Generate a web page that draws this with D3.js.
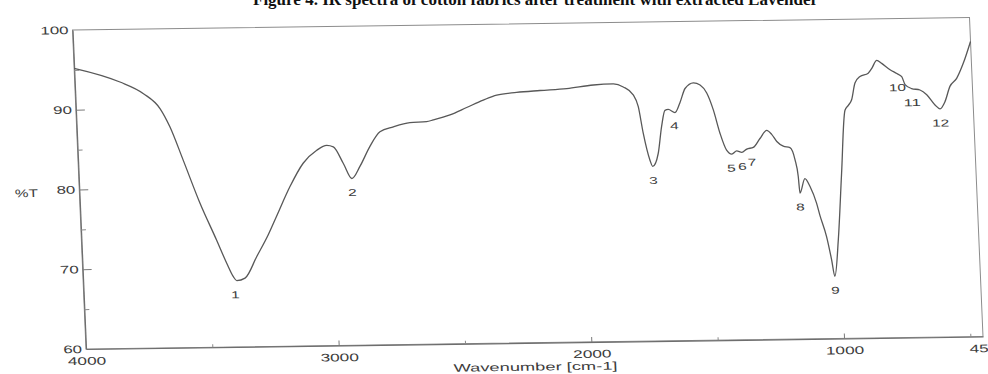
<!DOCTYPE html>
<html>
<head>
<meta charset="utf-8">
<script src="https://cdn.jsdelivr.net/npm/d3@7"></script>
<style>
  html, body { margin: 0; padding: 0; background: #fff; }
  svg { display: block; }
</style>
</head>
<body>
<svg id="chart" width="988" height="374"></svg>
<script>
// FTIR spectrum: wavenumber (cm-1) against transmittance (%T)
const wavenumbers = [
  4000, 3821, 3730, 3667, 3631, 3584, 3525, 3465, 3429, 3405, 3392, 3359, 3309, 3260,
  3224, 3166, 3110, 3054, 3014, 2988, 2951, 2920, 2886, 2843, 2801, 2747, 2681, 2615,
  2588, 2521, 2454, 2387, 2333, 2254, 2161, 2055, 1949, 1870, 1831, 1793, 1775, 1760,
  1738, 1728, 1704, 1686, 1670, 1657, 1631, 1610, 1587, 1553, 1527, 1502, 1479, 1456,
  1433, 1413, 1393, 1373, 1353, 1327, 1299, 1271, 1252, 1233, 1208, 1182, 1164, 1154,
  1150, 1128, 1109, 1086, 1075, 1052, 1036, 1026, 1006, 982, 958, 944, 930, 914,
  893, 860, 845, 824, 805, 773, 747, 728, 716, 691, 658, 632, 601, 582,
  561, 539, 511, 482, 450
];
const transmittance = [
  95.2, 93.4, 91.9, 90.0, 87.7, 83.5, 78.1, 73.4, 70.5, 68.8, 68.3, 68.6, 71.3, 74.0,
  76.3, 80.0, 82.9, 84.5, 85.1, 84.9, 82.8, 80.9, 82.4, 84.9, 86.7, 87.3, 87.8, 87.9,
  88.1, 88.7, 89.6, 90.5, 91.1, 91.4, 91.6, 91.8, 92.2, 92.3, 91.9, 90.9, 89.4, 86.1,
  82.7, 81.9, 83.5, 86.9, 88.9, 89.0, 88.6, 89.8, 91.6, 92.3, 92.0, 91.0, 88.9, 85.9,
  83.8, 83.3, 83.7, 83.5, 83.9, 84.1, 85.2, 86.2, 85.7, 84.8, 84.2, 84.0, 82.5, 80.4,
  78.3, 80.1, 79.1, 77.0, 75.5, 72.8, 69.9, 67.8, 72.4, 80.7, 88.6, 89.2, 89.9, 92.0,
  92.8, 93.2, 93.8, 94.8, 94.4, 93.6, 93.1, 92.7, 91.7, 91.2, 91.0, 90.4, 89.1, 88.6,
  89.5, 91.4, 92.4, 94.3, 97.0
];

// numbered absorption bands
const peakLabels = ["1", "2", "3", "4", "5", "6", "7", "8", "9", "10", "11", "12"];
const peakWavenumbers = [3400, 2920, 1728, 1635, 1417, 1373, 1335, 1150, 1026, 747, 691, 582];
const peakTransmittance = [68.3, 80.9, 81.9, 88.7, 83.3, 83.5, 84.0, 78.3, 67.8, 93.1, 91.2, 88.6];

const xLabelTicks = [4000, 3000, 2000, 1000, 450];
const xMajorTicks = [3000, 2000, 1000];
const xMinorTicks = [3500, 2500, 1500, 500];
const yLabelTicks = [100, 90, 80, 70, 60];
const yMajorTicks = [90, 80, 70];
const yMinorTicks = [95, 85, 75, 65];

const titleText = "Figure 4. IR spectra of cotton fabrics after treatment with extracted Lavender";
const xTitle = "Wavenumber [cm-1]";
const yTitle = "%T";

const W = 897, H = 319;
const sans = "'Liberation Sans', Arial, Helvetica, sans-serif";
const inkText = "#3c3c3c";

const svg = d3.select("#chart");

svg.append("text")
  .attr("x", 253).attr("y", 5)
  .attr("font-family", "'Liberation Serif', 'Times New Roman', serif")
  .attr("font-weight", "bold")
  .attr("font-size", 17)
  .attr("fill", "#111")
  .attr("textLength", 565)
  .attr("lengthAdjust", "spacingAndGlyphs")
  .text(titleText);

// plotting frame, slightly sheared like the printed recorder sheet
const plot = svg.append("g")
  .attr("transform", "matrix(1,-0.01394,0.0423,1,72.5,30)");

const x = d3.scaleLinear().domain([4000, 450]).range([0, W]);
const y = d3.scaleLinear().domain([60, 100]).range([H, 0]);

plot.append("rect")
  .attr("x", 0).attr("y", 0).attr("width", W).attr("height", H)
  .attr("fill", "none").attr("stroke", "#8c8c8c").attr("stroke-width", 1);

const charW = 9.6;
function styleLabels(sel, perChar) {
  sel.selectAll("text")
    .attr("font-family", sans)
    .attr("font-size", 11)
    .attr("fill", inkText)
    .attr("textLength", function () { return this.textContent.length * perChar; })
    .attr("lengthAdjust", "spacingAndGlyphs");
}

// bottom axis: labels, then major and minor inward ticks
const xAxis = plot.append("g").attr("transform", `translate(0,${H})`)
  .call(d3.axisBottom(x).tickValues(xLabelTicks).tickFormat(d3.format("d"))
    .tickSize(0).tickSizeOuter(0).tickPadding(8));
xAxis.select(".domain").attr("stroke", "#6e6e6e").attr("stroke-width", 1.2);
styleLabels(xAxis, charW);

plot.append("g").attr("transform", `translate(0,${H})`)
  .call(d3.axisBottom(x).tickValues(xMajorTicks).tickFormat("").tickSize(-5).tickSizeOuter(0))
  .call(g => g.select(".domain").remove())
  .selectAll("line").attr("stroke", "#7a7a7a");
plot.append("g").attr("transform", `translate(0,${H})`)
  .call(d3.axisBottom(x).tickValues(xMinorTicks).tickFormat("").tickSize(-3).tickSizeOuter(0))
  .call(g => g.select(".domain").remove())
  .selectAll("line").attr("stroke", "#8a8a8a");

// left axis
const yAxis = plot.append("g")
  .call(d3.axisLeft(y).tickValues(yLabelTicks).tickFormat(d3.format("d"))
    .tickSize(0).tickSizeOuter(0).tickPadding(4));
yAxis.select(".domain").attr("stroke", "#6e6e6e").attr("stroke-width", 1.2);
styleLabels(yAxis, 9.4);

plot.append("g")
  .call(d3.axisLeft(y).tickValues(yMajorTicks).tickFormat("").tickSize(-9).tickSizeOuter(0))
  .call(g => g.select(".domain").remove())
  .selectAll("line").attr("stroke", "#7a7a7a");
plot.append("g")
  .call(d3.axisLeft(y).tickValues(yMinorTicks).tickFormat("").tickSize(-5).tickSizeOuter(0))
  .call(g => g.select(".domain").remove())
  .selectAll("line").attr("stroke", "#8a8a8a");

// axis titles
plot.append("text")
  .attr("x", W / 2).attr("y", H + 24).attr("dy", "0.35em")
  .attr("text-anchor", "middle")
  .attr("font-family", sans).attr("font-size", 11).attr("fill", inkText)
  .attr("textLength", 164).attr("lengthAdjust", "spacingAndGlyphs")
  .text(xTitle);

plot.append("text")
  .attr("x", -53).attr("y", y(80) + 3).attr("dy", "0.35em")
  .attr("text-anchor", "middle")
  .attr("font-family", sans).attr("font-size", 11).attr("fill", inkText)
  .attr("textLength", 23).attr("lengthAdjust", "spacingAndGlyphs")
  .text(yTitle);

// spectrum trace
const points = wavenumbers.map((w, i) => [w, transmittance[i]]);
const line = d3.line()
  .x(d => x(d[0]))
  .y(d => y(d[1]))
  .curve(d3.curveMonotoneX);

plot.append("path")
  .datum(points)
  .attr("d", line)
  .attr("fill", "none")
  .attr("stroke", "#585858")
  .attr("stroke-width", 1.3)
  .attr("stroke-linejoin", "round");

// band numbers under each absorption
plot.append("g")
  .selectAll("text")
  .data(peakLabels)
  .join("text")
  .attr("x", (d, i) => x(peakWavenumbers[i]))
  .attr("y", (d, i) => y(peakTransmittance[i]) + 14)
  .attr("dy", "0.35em")
  .attr("text-anchor", "middle")
  .attr("font-family", sans)
  .attr("font-size", 10)
  .attr("fill", inkText)
  .attr("textLength", d => d.length * 8.6)
  .attr("lengthAdjust", "spacingAndGlyphs")
  .text(d => d);
</script>
</body>
</html>
